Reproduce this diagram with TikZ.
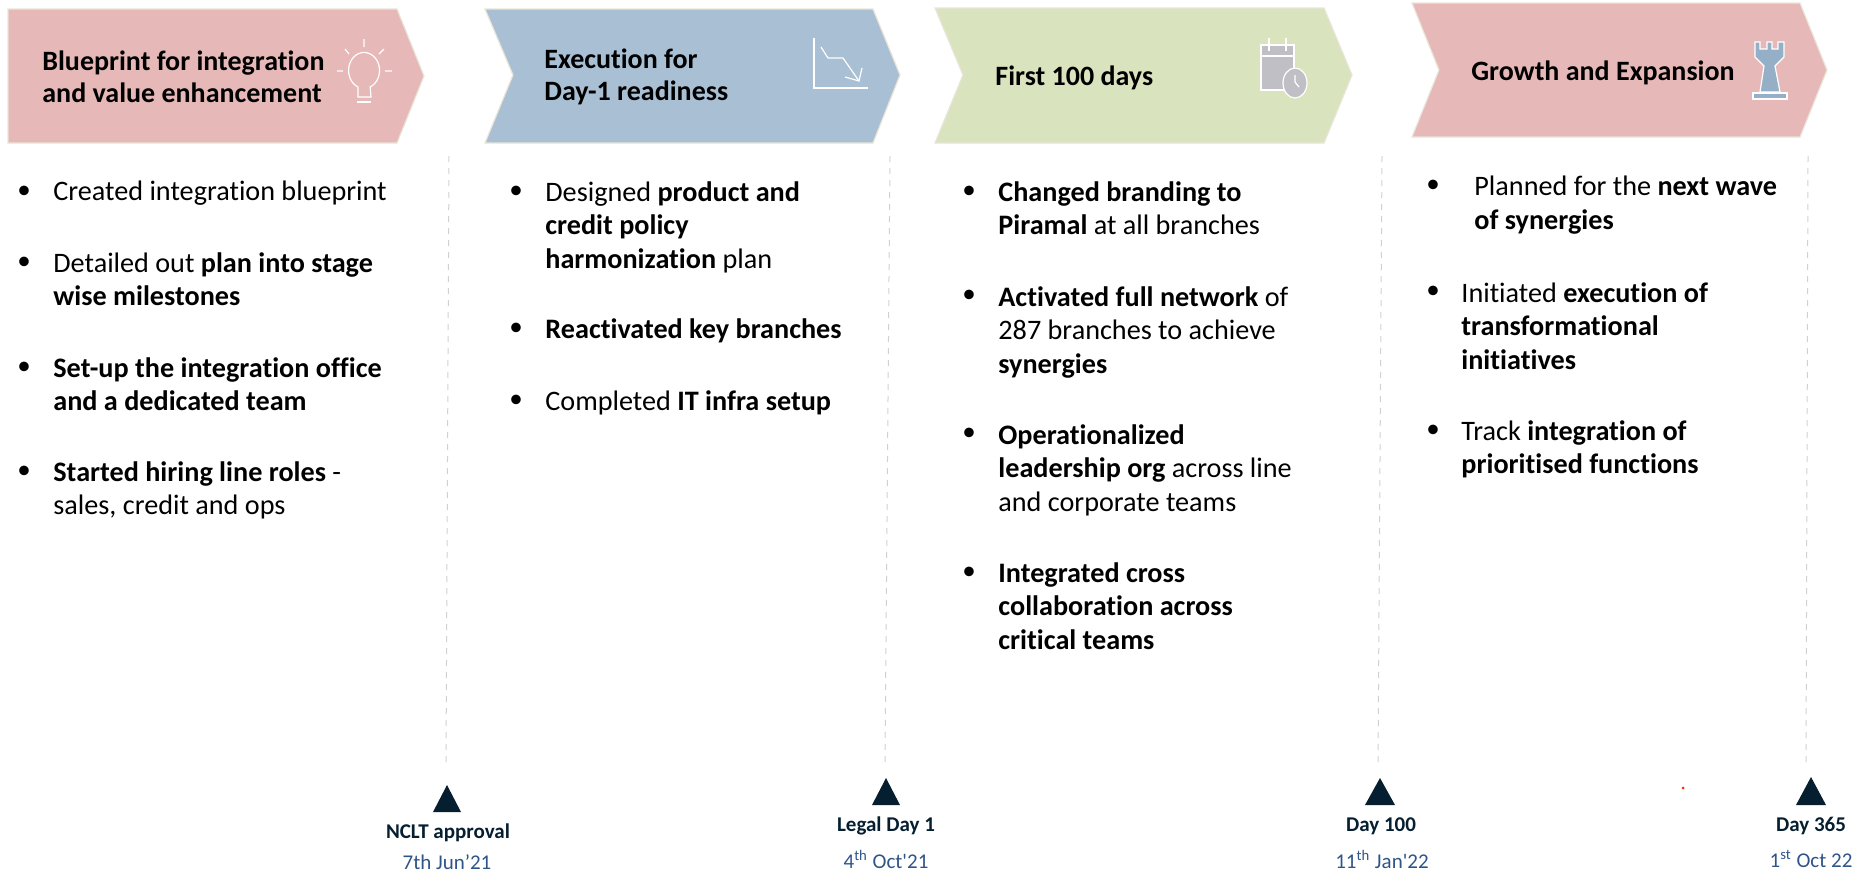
\documentclass[tikz,border=0pt]{standalone}
\usepackage{fontspec}
\setmainfont{Carlito}[Ligatures={TeXOff,NoCommon}]
\definecolor{hdrpink}{HTML}{E6B8B7}
\definecolor{hdrblue}{HTML}{A9BFD3}
\definecolor{hdrgreen}{HTML}{D9E4BE}
\definecolor{hdredge}{HTML}{E9E5D9}
\definecolor{navy}{HTML}{061F30}
\definecolor{dateblue}{HTML}{2E5488}
\definecolor{rookblue}{HTML}{94AFC6}
\definecolor{calgrey}{HTML}{C0BFC5}
\tikzset{
  hdrshape/.style={draw=hdredge, line width=0.6pt},
  hdrtext/.style={anchor=west, inner sep=0pt, align=left, font=\fontsize{14}{16.2}\selectfont\bfseries},
  itemtext/.style={anchor=north west, inner sep=0pt, align=left, execute at begin node=\strut, font=\fontsize{14.1}{16.8}\selectfont},
  bullet/.style={anchor=north west, inner sep=0pt, execute at begin node=\strut, font=\fontsize{13.5}{16.8}\selectfont},
  divider/.style={draw=black!18, dashed, line width=0.5pt},
  icon/.style={draw=white, line width=0.6pt},
  marker/.style={fill=navy},
  milestone/.style={inner sep=0pt, text=navy, font=\fontsize{10.5}{12}\selectfont\bfseries},
  datetext/.style={inner sep=0pt, text=dateblue, font=\fontsize{10.5}{12}\selectfont}
}
\begin{document}
\begin{tikzpicture}[x=0.5pt,y=-0.5pt]
        \useasboundingbox (0,0) rectangle (1854,874);
        % header arrows
        \draw[hdrshape, fill=hdrpink] (8,9) -- (397,9) -- (424,76) -- (397,143) -- (8,143) -- cycle;
        \draw[hdrshape, fill=hdrblue] (485,9) -- (873,9) -- (900,75) -- (873,143) -- (485,143) -- (513,75) -- cycle;
        \draw[hdrshape, fill=hdrgreen] (935,8) -- (1324,8) -- (1352,75) -- (1324,143) -- (935,143) -- (963,75) -- cycle;
        \draw[hdrshape, fill=hdrpink] (1412,3) -- (1800,3) -- (1827,70) -- (1800,137) -- (1412,137) -- (1439,70) -- cycle;
        \node[hdrtext] (blueprint) at (42,77) {Blueprint for integration\\and value enhancement};
        \node[hdrtext] (execution) at (544,77) {Execution for\\Day-1 readiness};
        \node[hdrtext] (first) at (995,78) {First 100 days};
        \node[hdrtext] (growth) at (1471,73) {Growth and Expansion};
        % bulb
        \draw[icon] (364,39) -- (364,47) (345,49) -- (349,54) (384,49) -- (379,54) (337,71) -- (343,71) (385,71) -- (392,71);
        \draw[icon] (358,97) -- (358,87) arc[start angle=113, end angle=427, x radius=15.5, y radius=18] -- (371,97) -- cycle;
        \draw[icon] (357,102) -- (371,102);
        % chart
        \draw[icon] (814,38) -- (814,88) -- (868,88);
        \draw[icon] (821,47) -- (828,58) -- (843,58) -- (859,81);
        \draw[icon] (845,77) -- (859,81) -- (862,68);
        % calendar
        \draw[icon, fill=calgrey] (1261,45) rectangle (1294,90);
        \draw[icon] (1261,56) -- (1294,56) (1269,38) -- (1269,51) (1286,38) -- (1286,51);
        \draw[icon, fill=calgrey] (1295,83) ellipse[x radius=12, y radius=15];
        \draw[icon] (1295,75) -- (1295,82) -- (1299,87);
        % rook
        \draw[icon, fill=rookblue] (1755,42) -- (1760,42) -- (1760,49) -- (1767,49) -- (1767,42) -- (1772,42) -- (1772,49) -- (1778,49) -- (1778,42) -- (1784,42) -- (1784,57) -- (1775,66) -- (1780,92) -- (1760,92) -- (1764,66) -- (1755,57) -- cycle;
        \draw[icon, fill=rookblue] (1753,93) rectangle (1787,99);
        % first column
        \node[bullet] (ba1) at (17,175) {•};
        \node[itemtext] (a1) at (53,177) {Created integration blueprint};
        \node[bullet] (ba2) at (17,246) {•};
        \node[itemtext] (a2) at (53,252) {Detailed out \textbf{plan into stage}\\\textbf{wise milestones}};
        \node[bullet] (ba3) at (17,351) {•};
        \node[itemtext] (a3) at (53,357) {\textbf{Set-up the integration office}\\\textbf{and a dedicated team}};
        \node[bullet] (ba4) at (17,455) {•};
        \node[itemtext] (a4) at (53,461) {\textbf{Started hiring line roles} -\\sales, credit and ops};
        % second column
        \node[bullet] (bb1) at (509,175) {•};
        \node[itemtext] (b1) at (545,181) {Designed \textbf{product and}\\\textbf{credit policy}\\\textbf{harmonization} plan};
        \node[bullet] (bb2) at (509,312) {•};
        \node[itemtext] (b2) at (545,315) {\textbf{Reactivated key branches}};
        \node[bullet] (bb3) at (509,384) {•};
        \node[itemtext] (b3) at (545,387) {Completed \textbf{IT infra setup}};
        % third column
        \node[bullet] (bc1) at (962,175) {•};
        \node[itemtext] (c1) at (998,181) {\textbf{Changed branding to}\\\textbf{Piramal} at all branches};
        \node[bullet] (bc2) at (962,279) {•};
        \node[itemtext] (c2) at (998,286) {\textbf{Activated full network} of\\287 branches to achieve\\\textbf{synergies}};
        \node[bullet] (bc3) at (962,417) {•};
        \node[itemtext] (c3) at (998,424) {\textbf{Operationalized}\\\textbf{leadership org} across line\\and corporate teams};
        \node[bullet] (bc4) at (962,556) {•};
        \node[itemtext] (c4) at (998,562) {\textbf{Integrated cross}\\\textbf{collaboration across}\\\textbf{critical teams}};
        % fourth column
        \node[bullet] (bd1) at (1426,169) {•};
        \node[itemtext] (d1) at (1474,176) {Planned for the \textbf{next wave}\\\textbf{of synergies}};
        \node[bullet] (bd2) at (1426,275) {•};
        \node[itemtext] (d2) at (1461,282) {Initiated \textbf{execution of}\\\textbf{transformational}\\\textbf{initiatives}};
        \node[bullet] (bd3) at (1426,414) {•};
        \node[itemtext] (d3) at (1461,420) {Track \textbf{integration of}\\\textbf{prioritised functions}};
        % dividers
        \coordinate (topa) at (449,156);
        \coordinate (bota) at (446,762);
        \coordinate (topb) at (890,156);
        \coordinate (botb) at (885,762);
        \coordinate (topc) at (1382,156);
        \coordinate (botc) at (1378,762);
        \coordinate (topd) at (1808,156);
        \coordinate (botd) at (1806,762);
        \draw[divider] (topa) -- (bota);
        \draw[divider] (topb) -- (botb);
        \draw[divider] (topc) -- (botc);
        \draw[divider] (topd) -- (botd);
        % milestones
        \fill[marker] (447,785) -- (461,812) -- (433,812) -- cycle;
        \fill[marker] (886,778) -- (900,805) -- (872,805) -- cycle;
        \fill[marker] (1380,778) -- (1395,805) -- (1365,805) -- cycle;
        \fill[marker] (1811,777) -- (1826,805) -- (1796,805) -- cycle;
        \fill[red!70!orange] (1683,788) circle (1.5);
        \node[milestone] (nclt) at (448,833) {NCLT approval};
        \node[datetext] (ncltdate) at (447,862) {7th Jun’21};
        \node[milestone] (legal) at (886,826) {Legal Day 1};
        \node[datetext] (legaldate) at (886,859) {4\textsuperscript{th} Oct'21};
        \node[milestone] (hundred) at (1381,826) {Day 100};
        \node[datetext] (hundreddate) at (1382,859) {11\textsuperscript{th} Jan'22};
        \node[milestone] (year) at (1811,826) {Day 365};
        \node[datetext] (yeardate) at (1811,859) {1\textsuperscript{st} Oct 22};
    \end{tikzpicture}
\end{document}
